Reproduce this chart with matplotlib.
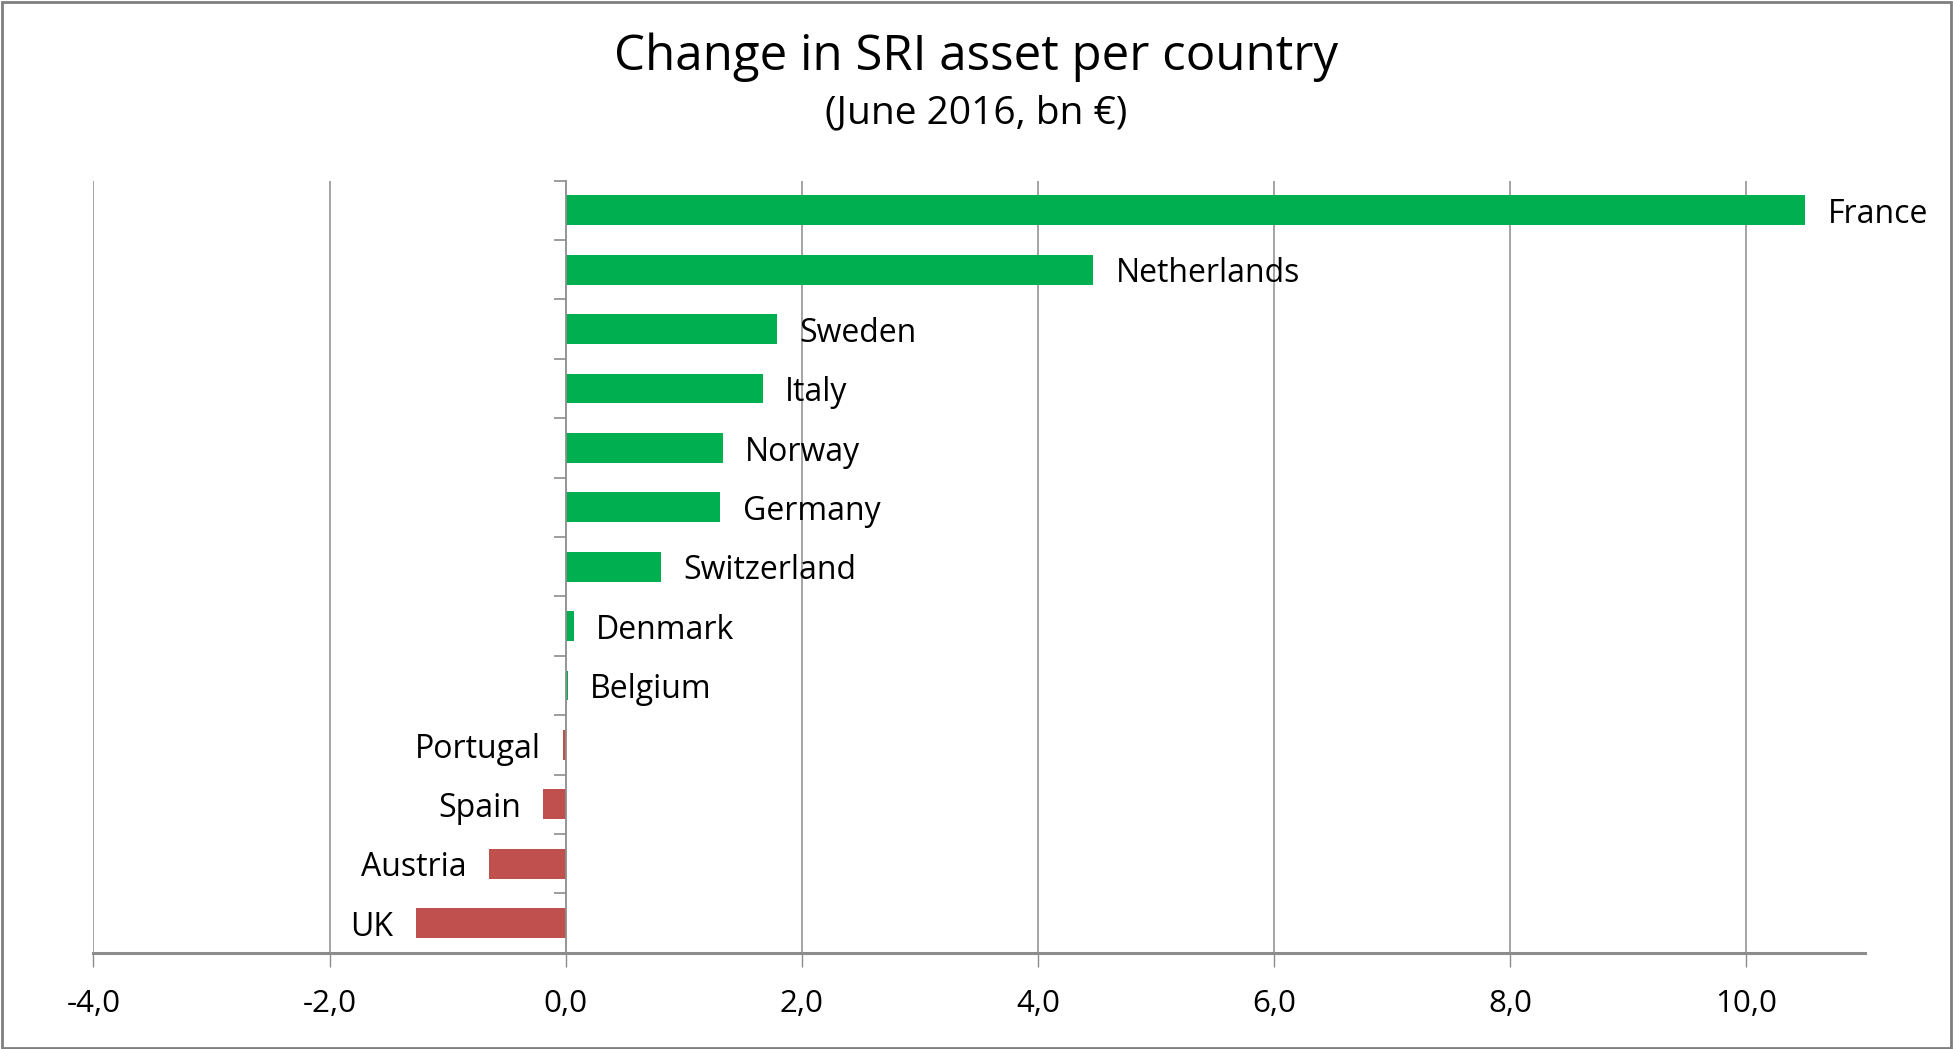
import matplotlib
matplotlib.use("Agg")
import matplotlib.pyplot as plt
from matplotlib.patches import Rectangle
import numpy as np

countries = ["France", "Netherlands", "Sweden", "Italy", "Norway", "Germany",
             "Switzerland", "Denmark", "Belgium", "Portugal", "Spain", "Austria", "UK"]
values = [10.5, 4.47, 1.79, 1.67, 1.33, 1.31, 0.81, 0.07, 0.02, -0.02, -0.19, -0.65, -1.27]
xticks = [-4, -2, 0, 2, 4, 6, 8, 10]
xtick_labels = ["-4,0", "-2,0", "0,0", "2,0", "4,0", "6,0", "8,0", "10,0"]

GREEN = "#00B050"
RED = "#C0504D"
GRID = "#8C8C8C"

plt.rcParams['font.family'] = ['Open Sans', 'DejaVu Sans']

fig = plt.figure(figsize=(19.53, 10.49), dpi=100)
fig.patches.append(Rectangle((0.001, 0.001), 0.998, 0.997, transform=fig.transFigure,
                             fill=False, edgecolor="#7F7F7F", linewidth=2))

ax = fig.add_axes([0.0478, 0.0917, 0.9069, 0.7361])
n = len(countries)
y = np.arange(n)
colors = [GREEN if v >= 0 else RED for v in values]
ax.barh(y, values, height=0.5, color=colors, zorder=3)

ax.set_xlim(-4, 11)
ax.set_ylim(n - 0.5, -0.5)

for yi, v, name in zip(y, values, countries):
    if v >= 0:
        ax.annotate(name, (v, yi), xytext=(16, -3), textcoords="offset points",
                    ha="left", va="center", fontsize=23, color="black")
    else:
        ax.annotate(name, (v, yi), xytext=(-16, -3), textcoords="offset points",
                    ha="right", va="center", fontsize=23, color="black")

ax.set_xticks(xticks)
ax.set_xticklabels(xtick_labels, fontsize=22.5)
ax.tick_params(axis="x", direction="out", length=10, width=1, color=GRID, pad=16)
for xt in xticks:
    if xt != 0:
        ax.axvline(xt, color=GRID, linewidth=1.1, zorder=1)

# y axis at zero with boundary ticks
ax.spines['left'].set_position(('data', 0))
ax.spines['left'].set_color(GRID)
ax.spines['left'].set_linewidth(1.3)
ax.spines['left'].set_zorder(4)
ax.set_yticks(y)
ax.set_yticklabels([])
ax.tick_params(axis="y", which="major", length=0)
ax.set_yticks(np.arange(-0.5, n, 1.0), minor=True)
ax.tick_params(axis="y", which="minor", direction="out", length=9, width=1.2, color=GRID)

ax.spines['bottom'].set_color(GRID)
ax.spines['bottom'].set_linewidth(2.2)
ax.spines['top'].set_visible(False)
ax.spines['right'].set_visible(False)

fig.text(0.5, 0.945, "Change in SRI asset per country", ha="center", va="center",
         fontsize=35.5, color="black")
fig.text(0.5, 0.892, "(June 2016, bn €)", ha="center", va="center",
         fontsize=28, color="black")

fig.savefig("out.png", dpi=100)
